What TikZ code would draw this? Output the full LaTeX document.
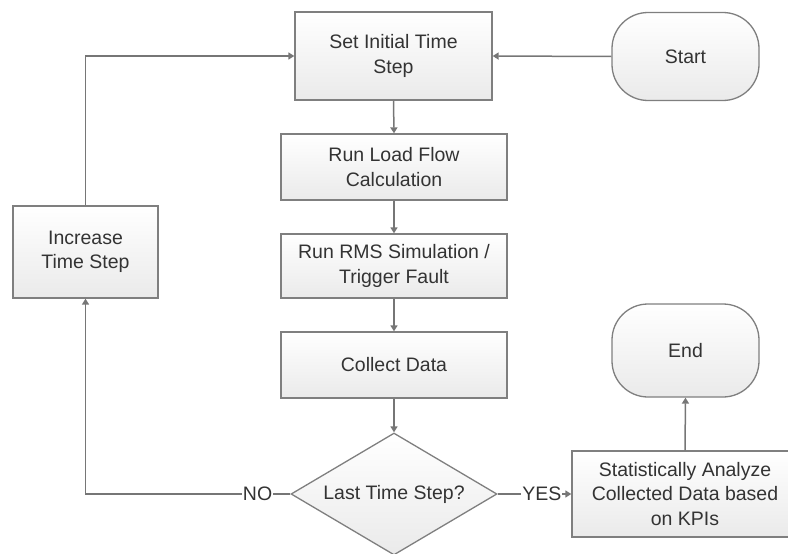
\documentclass[tikz,border=0pt]{standalone}
\usepackage{fontspec}
\setmainfont{Liberation Sans}
\usetikzlibrary{shapes.geometric,arrows.meta}
\definecolor{edgegray}{HTML}{7F7F7F}
\definecolor{linegray}{HTML}{767676}
\definecolor{fillbot}{HTML}{EAEAEA}
\definecolor{txt}{HTML}{333333}
\tikzset{
  boxbase/.style={draw=edgegray, line width=1.3pt, top color=white, bottom color=fillbot,
    inner sep=0pt, align=center, text=txt, font=\fontsize{19.5}{24.5}\selectfont},
  procbox/.style={boxbase, rectangle, minimum width=226pt, minimum height=66pt},
  termbox/.style={boxbase, rectangle, rounded corners=36pt, minimum width=147pt, minimum height=88pt},
  decbox/.style={boxbase, diamond, minimum width=206pt, minimum height=122pt},
  conn/.style={draw=linegray, line width=1.5pt, -{Triangle[width=7pt,length=6pt]}},
  plain/.style={draw=linegray, line width=1.5pt},
  lbl/.style={fill=white, inner sep=1pt, text=txt, font=\fontsize{19.5}{24.5}\selectfont}
}
\begin{document}
\begin{tikzpicture}[x=1pt,y=-1pt]
\useasboundingbox (0,0) rectangle (788,554);
\clip (0,0) rectangle (788,554);
\node[procbox, minimum width=197pt, minimum height=88pt] (set) at (393.5,56) {Set Initial Time\\Step};
\node[termbox] (start) at (685.5,56.5) {Start};
\node[procbox] (load) at (394,167) {Run Load Flow\\Calculation};
\node[procbox, minimum height=64pt] (rms) at (394,266) {Run RMS Simulation /\\Trigger Fault};
\node[procbox] (collect) at (394,365) {Collect Data};
\node[decbox] (dec) at (394,494) {};
\node[text=txt, font=\fontsize{19.5}{24.5}\selectfont] (dectext) at (dec.center) {Last Time Step?};
\node[procbox, minimum height=86pt] (analyze) at (685,494) {Statistically Analyze\\Collected Data based\\on KPIs};
\node[termbox, minimum height=93pt] (end) at (685.5,350.5) {End};
\node[procbox, minimum width=145pt, minimum height=92pt] (inc) at (85.5,252) {Increase\\Time Step};

\coordinate (noturn) at (inc.south |- dec.west);
\coordinate (upturn) at (inc.north |- set.west);

\draw[conn] (start.west) -- (set.east);
\draw[conn] (set.south) -- (load.north);
\draw[conn] (load.south) -- (rms.north);
\draw[conn] (rms.south) -- (collect.north);
\draw[conn] (collect.south) -- (dec.north);
\draw[conn] (dec.west) -- node[lbl, pos=0.16] (no) {NO} (noturn) -- (inc.south);
\draw[conn] (inc.north) -- (upturn) -- (set.west);
\draw[conn] (dec.east) -- node[lbl, pos=0.6] (yes) {YES} (analyze.west);
\draw[conn] (analyze.north) -- (end.south);
\end{tikzpicture}
\end{document}
